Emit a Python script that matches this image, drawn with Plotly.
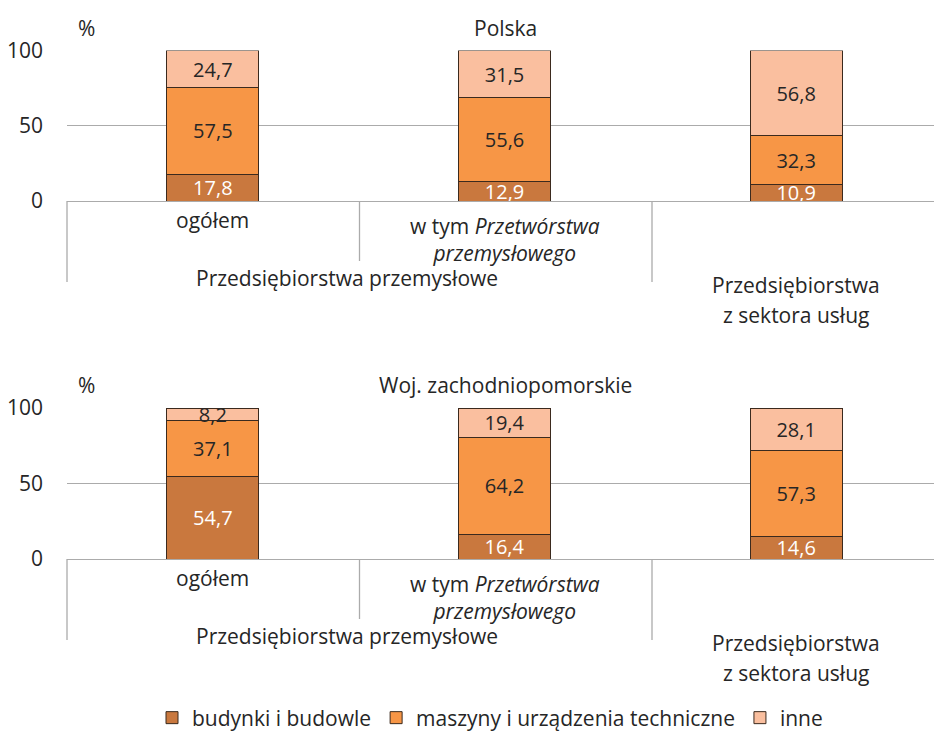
import plotly.graph_objects as go

# ── data ──────────────────────────────────────────────────────────────────────
groups = ["ogółem", "w tym <i>Przetwórstwa</i><br><i>przemysłowego</i>",
          "Przedsiębiorstwa<br>z sektora usług"]
parent_group = "Przedsiębiorstwa przemysłowe"
series = ["budynki i budowle", "maszyny i urządzenia techniczne", "inne"]

polska_budynki = [17.8, 12.9, 10.9]
polska_maszyny = [57.5, 55.6, 32.3]
polska_inne = [24.7, 31.5, 56.8]

zach_budynki = [54.7, 16.4, 14.6]
zach_maszyny = [37.1, 64.2, 57.3]
zach_inne = [8.2, 19.4, 28.1]

panel_titles = ["Polska", "Woj. zachodniopomorskie"]
y_ticks = [0, 50, 100]

# ── style ─────────────────────────────────────────────────────────────────────
FONT = "Open Sans"
TXT = "#262626"
GRID = "#ABABAB"
EDGE = "#3B2A1E"
COLORS = ["#C9783E", "#F79646", "#FABF9F"]
LABEL_COLORS = ["white", TXT, TXT]
FS = 21

# page body has an 8px margin, so the figure is drawn from (8, 8)
OFF = 8
W, H = 942 - OFF, 739 - OFF
L = 67 - OFF
PW, PH = W - L, H


def px(xp):
    return (xp - OFF - L) / PW


def py(yp):
    return 1 - (yp - OFF) / PH


fmt = lambda v: f"{v:.1f}".replace(".", ",")

panels = [
    ([polska_budynki, polska_maszyny, polska_inne], "x", "y", (50.5, 201)),
    ([zach_budynki, zach_maszyny, zach_inne], "x2", "y2", (408, 559)),
]

fig = go.Figure()
xs = list(range(len(groups)))

for p_i, (vals, xa, ya, _) in enumerate(panels):
    for s_i, name in enumerate(series):
        fig.add_trace(go.Bar(
            x=xs, y=vals[s_i], name=name,
            xaxis=xa, yaxis=ya,
            width=0.315,
            marker=dict(color=COLORS[s_i], line=dict(color=EDGE, width=1)),
            text=[fmt(v) for v in vals[s_i]],
            textposition="inside", insidetextanchor="middle",
            textangle=0, constraintext="none",
            textfont=dict(family=FONT, size=20, color=LABEL_COLORS[s_i]),
            showlegend=(p_i == 0),
            hoverinfo="skip",
        ))

# px below the axis for each category label (lists = one entry per line)
cat_offsets = [19, 38, [84, 114]]


def note(text, xref, x, y, size=FS):
    return dict(text=text, xref=xref, yref="paper", x=x, y=y,
                xanchor="center", yanchor="middle", showarrow=False,
                font=dict(size=size, color=TXT, family=FONT))


annotations = []
shapes = []
for p_i, (vals, xa, ya, (top, bot)) in enumerate(panels):
    annotations.append(note("%", "paper", px(86), py(top - 23)))
    annotations.append(note(panel_titles[p_i], "paper", px(505), py(top - 23)))
    for i, g in enumerate(groups):
        off = cat_offsets[i]
        if isinstance(off, list):
            for line, o in zip(g.split("<br>"), off):
                annotations.append(note(line, xa, i, py(bot + o)))
        else:
            annotations.append(note(g, xa, i, py(bot + off)))
    annotations.append(note(parent_group, xa, 0.46, py(bot + 77)))
    for xp, ln in [(67, 81), (359.5, 60), (652, 81)]:
        shapes.append(dict(type="line", xref="paper", yref="paper",
                           x0=px(xp), x1=px(xp), y0=py(bot), y1=py(bot + ln),
                           line=dict(color=GRID, width=1.3)))

axis_common = dict(range=[-0.5, 2.5], showticklabels=False, showgrid=False,
                   zeroline=False, showline=True, linecolor=GRID, linewidth=1.3,
                   ticks="", fixedrange=True)
yaxis_common = dict(range=[0, 100], tickvals=y_ticks, showgrid=True, gridcolor=GRID,
                    gridwidth=1.3, zeroline=False, showline=False, ticks="",
                    ticklabelstandoff=23,
                    tickfont=dict(size=FS, color=TXT, family=FONT), fixedrange=True)

fig.update_layout(
    width=W, height=H,
    margin=dict(l=L, r=0, t=0, b=0, autoexpand=False),
    paper_bgcolor="white", plot_bgcolor="white",
    barmode="stack",
    font=dict(family=FONT, color=TXT),
    xaxis=dict(**axis_common, anchor="y", domain=[0, 1]),
    xaxis2=dict(**axis_common, anchor="y2", domain=[0, 1]),
    yaxis=dict(**yaxis_common, anchor="x", domain=[py(201), py(50.5)]),
    yaxis2=dict(**yaxis_common, anchor="x2", domain=[py(559), py(408)]),
    legend=dict(orientation="h", x=px(490), xanchor="center", y=py(718), yanchor="middle",
                font=dict(size=FS, color=TXT, family=FONT), traceorder="normal",
                itemwidth=30),
    annotations=annotations,
    shapes=shapes,
)

fig.write_html("out.html")
